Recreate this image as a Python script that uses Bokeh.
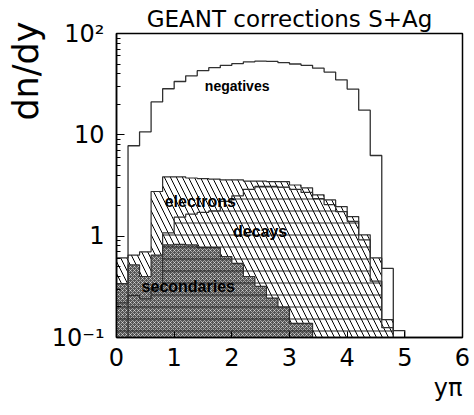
import math
from bokeh.plotting import figure
from bokeh.models import Label, FixedTicker, Range1d, Title
from bokeh.embed import file_html
from bokeh.resources import INLINE

# ---------------- data (bin width 0.2 in rapidity) ----------------
edges = [0.0, 0.2, 0.4, 0.6, 0.8, 1.0, 1.2, 1.4, 1.6, 1.8, 2.0, 2.2, 2.4,
         2.6, 2.8, 3.0, 3.2, 3.4, 3.6, 3.8, 4.0, 4.2, 4.4, 4.6, 4.8, 5.0]

negatives = [0, 7.8, 10.7, 21.1, 28.5, 33.6, 38.2, 43.0, 46.0, 48.5, 50.5, 52.5,
             53.5, 53.0, 51.5, 50.0, 48.5, 45.5, 41.6, 34.9, 28.3, 17.5, 6.25,
             0.48, 0.117]
electrons = [0.61, 0.65, 0.70, 2.76, 3.85, 3.85, 3.75, 3.7, 3.65, 3.6, 3.6, 3.5,
             3.5, 3.45, 3.45, 3.2, 3.0, 2.56, 2.28, 1.96, 1.56, 1.03, 0.61,
             0.15, 0]
decays = [0.22, 0.26, 0.24, 0.30, 1.08, 1.54, 1.65, 1.72, 1.78, 2.2, 2.5, 2.9,
          3.1, 3.1, 3.05, 2.9, 2.7, 2.35, 2.05, 1.75, 1.4, 0.92, 0.36, 0.125, 0]
secondaries = [0.34, 0.52, 0.40, 0.65, 0.82, 0.83, 0.82, 0.77, 0.77, 0.63, 0.54,
               0.40, 0.32, 0.245, 0.20, 0.138, 0.138, 0, 0, 0, 0, 0, 0, 0, 0]

x_ticks = [0, 1, 2, 3, 4, 5, 6]
y_ticks = [0.1, 1, 10, 100]
y_tick_labels = {0.1: "10\u207b\u00b9", 1: "1", 10: "10", 100: "10\u00b2"}

BASE = 0.01  # histogram baseline (below the visible range)


def outline(vals):
    idx = [i for i, v in enumerate(vals) if v > 0]
    a, b = idx[0], idx[-1]
    xs, ys = [edges[a]], [BASE]
    for i in range(a, b + 1):
        xs += [edges[i], edges[i + 1]]
        ys += [vals[i], vals[i]]
    xs.append(edges[b + 1])
    ys.append(BASE)
    return xs, ys


p = figure(width=474, height=415, x_range=Range1d(0, 6), y_range=Range1d(0.1, 100),
           y_axis_type="log", output_backend="svg", toolbar_location=None,
           min_border_left=115, min_border_right=12, min_border_top=33,
           min_border_bottom=78)
p.xgrid.visible = False
p.ygrid.visible = False
p.outline_line_color = "black"
p.outline_line_width = 1.5
p.outline_line_alpha = 1.0
p.background_fill_color = "white"
p.border_fill_color = "white"

# title
p.title.text = "GEANT corrections S+Ag"
p.title.align = "center"
p.title.text_font = "DejaVu Sans"
p.title.text_font_size = "23px"
p.title.text_font_style = "normal"
p.title.text_color = "black"
p.title.standoff = 4

# axes
p.xaxis.ticker = FixedTicker(ticks=x_ticks, minor_ticks=[])
p.xaxis.major_tick_in = 6
p.xaxis.major_tick_out = 0
p.xaxis.minor_tick_in = 0
p.xaxis.minor_tick_out = 0
p.xaxis.axis_line_width = 1.5
p.xaxis.major_label_text_font = "DejaVu Sans"
p.xaxis.major_label_text_font_size = "24px"
p.xaxis.major_label_text_color = "black"
p.xaxis.major_label_standoff = 10

minor_y = [m * 10 ** e for e in (-1, 0, 1) for m in range(2, 10)]
p.yaxis.ticker = FixedTicker(ticks=y_ticks, minor_ticks=minor_y)
p.yaxis.major_tick_in = 8
p.yaxis.major_tick_out = 0
p.yaxis.minor_tick_in = 4
p.yaxis.minor_tick_out = 0
p.yaxis.axis_line_width = 1.5
p.yaxis.major_label_overrides = y_tick_labels
p.yaxis.major_label_text_font = "DejaVu Sans"
p.yaxis.major_label_text_font_size = "24px"
p.yaxis.major_label_text_color = "black"
p.yaxis.major_label_standoff = 12

# axis titles as side-panel Titles, aligned to the far ends
p.add_layout(Title(text="dn/dy", align="right", text_font="DejaVu Sans",
                   text_font_size="35px", text_font_style="normal",
                   text_color="black", standoff=6, offset=-12), "left")
p.add_layout(Title(text="y\u03c0", align="right", text_font="DejaVu Sans",
                   text_font_size="24px", text_font_style="normal",
                   text_color="black", standoff=6), "below")

OUT = "#303030"

# electrons: diagonal hatch
xs, ys = outline(electrons)
p.patch(xs, ys, fill_alpha=0, hatch_pattern="\\", hatch_scale=12, hatch_weight=1,
        hatch_color="black", line_color=OUT, line_width=1.2)
# secondaries: dense cross-hatch
xs, ys = outline(secondaries)
p.patch(xs, ys, fill_color="#555555", fill_alpha=1, hatch_pattern="x", hatch_scale=4,
        hatch_weight=1, hatch_color="white", hatch_alpha=0.5,
        line_color=OUT, line_width=1.2)
# decays: horizontal hatch
xs, ys = outline(decays)
p.patch(xs, ys, fill_alpha=0, hatch_pattern="-", hatch_scale=12, hatch_weight=1,
        hatch_color="#222222", line_color=OUT, line_width=1.2)
# negatives: outline only
xs, ys = outline(negatives)
p.patch(xs, ys, fill_alpha=0, line_color=OUT, line_width=1.3)


# ---- in-frame text placement helpers (page pixel -> data) ----
def dx(px):
    return (px - 115) / 57.83


def dy(py):
    return 10 ** ((235.5 - py) / 101.23)


def add_label(text, px, py, size):
    p.add_layout(Label(x=dx(px), y=dy(py), text=text, text_font="Liberation Sans",
                       text_font_size=size, text_font_style="bold",
                       text_align="center", text_baseline="middle",
                       text_color="black"))


add_label("negatives", 236, 85, "14px")
add_label("electrons", 199, 201, "16px")
add_label("decays", 259, 231, "16px")
add_label("secondaries", 187, 286, "16px")

open("out.html", "w").write(file_html(p, INLINE))
